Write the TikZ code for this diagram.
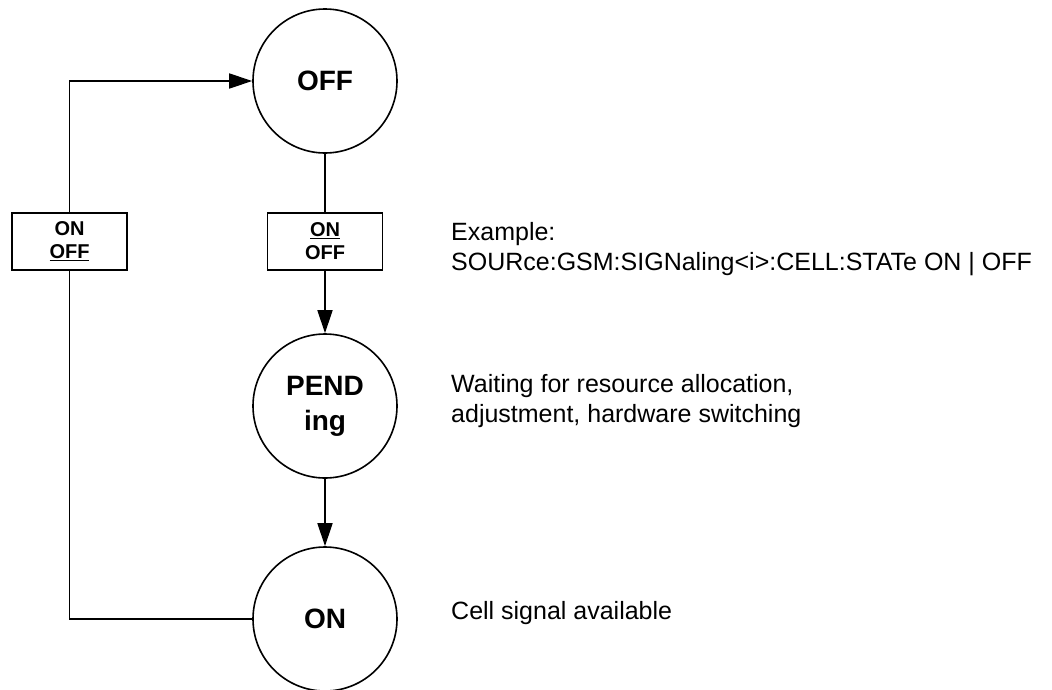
\documentclass[tikz,border=0pt]{standalone}
\usepackage{fontspec}
\setmainfont{Liberation Sans}
\usetikzlibrary{arrows.meta}
\tikzset{
  state/.style={draw,circle,line width=1.6pt,minimum size=144pt,inner sep=0pt,
    align=center,font=\fontsize{28}{35}\selectfont\bfseries},
  cmdbox/.style={draw,rectangle,line width=1.6pt,minimum width=115pt,minimum height=57pt,
    inner sep=0pt,align=center,font=\fontsize{20}{23}\selectfont\bfseries},
  note/.style={anchor=base west,inner sep=0pt,align=left,font=\fontsize{25}{30}\selectfont},
  flow/.style={line width=1.6pt,-{Triangle[length=23pt,width=15pt]}},
  link/.style={line width=1.6pt}
}
\begin{document}
\begin{tikzpicture}[x=1pt,y=-1pt]
\useasboundingbox (0,0) rectangle (1052,689);

\node[state] (off) at (325,81) {OFF};
\node[state] (pend) at (325,406) {PEND\\ing};
\node[state] (on) at (325,619) {ON};

\node[cmdbox] (leftbox) at (69.5,241.5) {ON\\\underline{OFF}};
\node[cmdbox] (midbox) at (325,241.5) {\underline{ON}\\OFF};

\node[note] (example) at (451,270) {Example:\\SOURce:GSM:SIGNaling<i>:CELL:STATe ON | OFF};
\node[note] (waiting) at (451,422) {Waiting for resource allocation,\\adjustment, hardware switching};
\node[note] (avail) at (451,619) {Cell signal available};

\draw[link] (off.south) -- (midbox.north);
\draw[flow] (midbox.south) -- (pend.north);
\draw[flow] (pend.south) -- (on.north);

\draw[link] (on.west) -| (leftbox.south);
\draw[flow] (leftbox.north) |- (off.west);
\end{tikzpicture}
\end{document}
